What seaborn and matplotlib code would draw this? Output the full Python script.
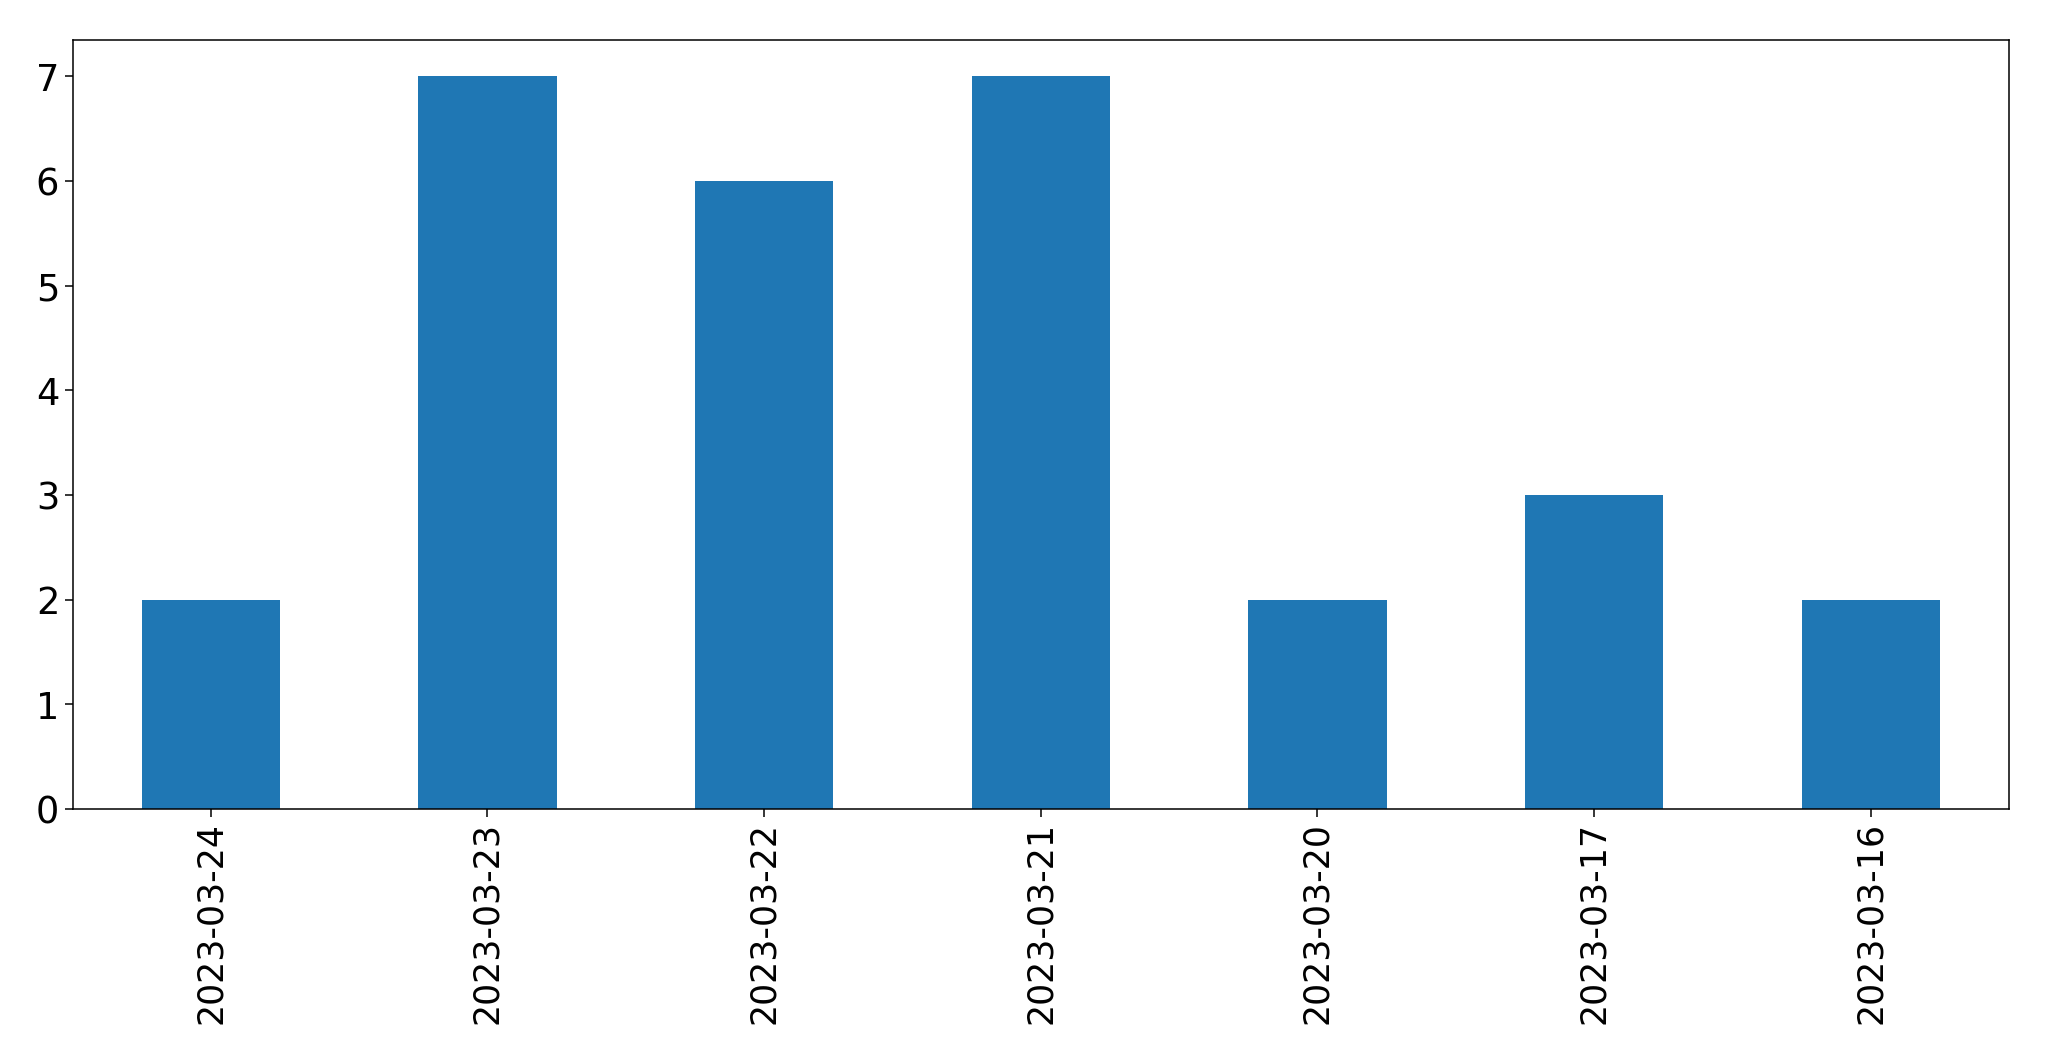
import matplotlib
matplotlib.use("Agg")
import matplotlib.pyplot as plt
import seaborn as sns
import pandas as pd

dates = ["2023-03-24", "2023-03-23", "2023-03-22", "2023-03-21",
         "2023-03-20", "2023-03-17", "2023-03-16"]
counts = [2, 7, 6, 7, 2, 3, 2]

df = pd.DataFrame({"date": dates, "count": counts})

plt.rcParams['font.family'] = ['DejaVu Sans']
fig = plt.figure(figsize=(20.49, 10.61), dpi=100)
ax = fig.add_axes([72.5/2049, 1-809/1061, (2009-72.5)/2049, (809-39.5)/1061])

sns.barplot(data=df, x="date", y="count", order=dates, color="#1f77b4",
            saturation=1, width=0.5, ax=ax, errorbar=None)
ax.set_xlim(-0.5, len(dates)-0.5)
ax.set_ylim(0, 7.35)
ax.set_xlabel("")
ax.set_ylabel("")
ax.tick_params(axis='both', length=6, width=1.1)
ax.tick_params(axis='x', labelrotation=90, labelsize=25)
ax.tick_params(axis='y', labelsize=26.5)
for s in ax.spines.values():
    s.set_linewidth(1.1)

fig.savefig("out.png", dpi=100)
